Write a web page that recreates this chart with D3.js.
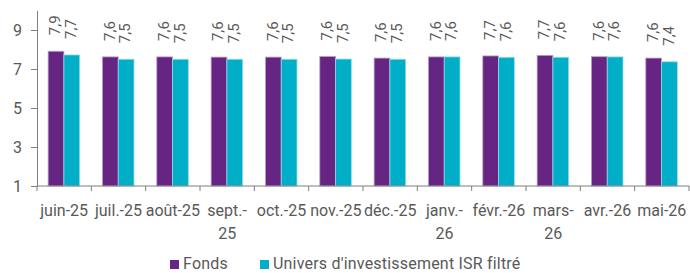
<!DOCTYPE html>
<html>
<head>
<meta charset="utf-8">
<script src="https://cdn.jsdelivr.net/npm/d3@7"></script>
<style>
  body { margin: 0; background: #fff; }
  svg text { font-family: Roboto, "Liberation Sans", sans-serif; fill: #595959; }
</style>
</head>
<body>
<div id="chart"></div>
<script>
// data
const categories = ["juin-25", "juil.-25", "août-25", "sept.-25", "oct.-25", "nov.-25",
                    "déc.-25", "janv.-26", "févr.-26", "mars-26", "avr.-26", "mai-26"]
const fonds   = [7.91, 7.62, 7.62, 7.61, 7.61, 7.64, 7.56, 7.62, 7.67, 7.70, 7.63, 7.56]
const univers = [7.72, 7.50, 7.50, 7.50, 7.50, 7.51, 7.50, 7.62, 7.60, 7.60, 7.62, 7.37]
const seriesNames = ["Fonds", "Univers d'investissement ISR filtré"]
const yTicks = [1, 3, 5, 7, 9]
// labels that wrap on two lines
const wrapped = ["sept.-25", "janv.-26", "mars-26"]

const w = 690
const h = 273
const colors = ["#662483", "#00AEC7"]
const strokes = ["#b79fc8", "#8fdbe6"]

const svg = d3.select("#chart").append("svg")
  .attr("width", w)
  .attr("height", h)

const x = d3.scaleBand()
  .domain(categories)
  .range([37, 689])
  .padding(0)

const x1 = d3.scaleBand()
  .domain([0, 1])
  .range([x.bandwidth() * 0.205, x.bandwidth() * 0.785])

const y = d3.scaleLinear()
  .domain([1, 10])
  .range([186, 10.5])

// y axis
const yAxis = d3.axisLeft(y)
  .tickValues(yTicks)
  .tickSize(6)
  .tickSizeOuter(0)
  .tickPadding(9)

const gy = svg.append("g")
  .attr("transform", "translate(37,0)")
  .call(yAxis)
gy.selectAll("path, line").attr("stroke", "#7f7f7f")
gy.selectAll("text")
  .style("font-size", "16px")
  .attr("fill", "#595959")

// bars
const rows = categories.map((c, i) => ({ cat: c, vals: [fonds[i], univers[i]] }))

const groups = svg.selectAll("g.grp")
  .data(rows)
  .enter()
  .append("g")
  .attr("class", "grp")
  .attr("transform", d => "translate(" + x(d.cat) + ",0)")

groups.selectAll("rect")
  .data(d => d.vals.map((v, k) => ({ v, k })))
  .enter()
  .append("rect")
  .attr("x", d => x1(d.k))
  .attr("width", x1.bandwidth())
  .attr("y", d => y(d.v))
  .attr("height", d => y(1) - y(d.v))
  .attr("fill", d => colors[d.k])
  .attr("stroke", d => strokes[d.k])
  .attr("stroke-width", 0.8)

// rotated value labels
const fmt = v => d3.format(".1f")(v).replace(".", ",")
groups.selectAll("text.val")
  .data(d => d.vals.map((v, k) => ({ v, k })))
  .enter()
  .append("text")
  .attr("class", "val")
  .attr("transform", d => "translate(" + (x1(d.k) + x1.bandwidth() / 2 - 1) + "," + (y(d.v) - 16) + ") rotate(-90)")
  .attr("dy", "0.35em")
  .style("font-size", "15px")
  .text(d => fmt(d.v))

// x axis: line plus ticks at category boundaries
const bounds = categories.map(c => x(c)).concat([x.range()[1]])
svg.append("line")
  .attr("x1", 37).attr("x2", 689)
  .attr("y1", y(1)).attr("y2", y(1))
  .attr("stroke", "#7f7f7f")
svg.selectAll("line.xt")
  .data(bounds)
  .enter()
  .append("line")
  .attr("class", "xt")
  .attr("x1", d => d).attr("x2", d => d)
  .attr("y1", y(1)).attr("y2", y(1) + 5)
  .attr("stroke", "#7f7f7f")

const xl = svg.selectAll("text.xl")
  .data(categories)
  .enter()
  .append("text")
  .attr("class", "xl")
  .attr("text-anchor", "middle")
  .attr("x", d => x(d) + x.bandwidth() / 2)
  .attr("y", 216)
  .style("font-size", "16px")
xl.each(function(d) {
  const lines = wrapped.includes(d) ? [d.slice(0, d.lastIndexOf("-") + 1), d.slice(d.lastIndexOf("-") + 1)] : [d]
  d3.select(this).selectAll("tspan")
    .data(lines)
    .enter()
    .append("tspan")
    .attr("x", x(d) + x.bandwidth() / 2)
    .attr("dy", (l, i) => i === 0 ? 0 : 23)
    .text(l => l)
})

// legend
const legX = [170, 260]
const leg = svg.selectAll("g.leg")
  .data(seriesNames)
  .enter()
  .append("g")
  .attr("class", "leg")
  .attr("transform", (d, i) => "translate(" + legX[i] + ",260)")
leg.append("rect")
  .attr("width", 9).attr("height", 9)
  .attr("fill", (d, i) => colors[i])
leg.append("text")
  .attr("x", 13)
  .attr("y", 8.5)
  .style("font-size", "16px")
  .style("letter-spacing", "0.2px")
  .text(d => d)
</script>
</body>
</html>
